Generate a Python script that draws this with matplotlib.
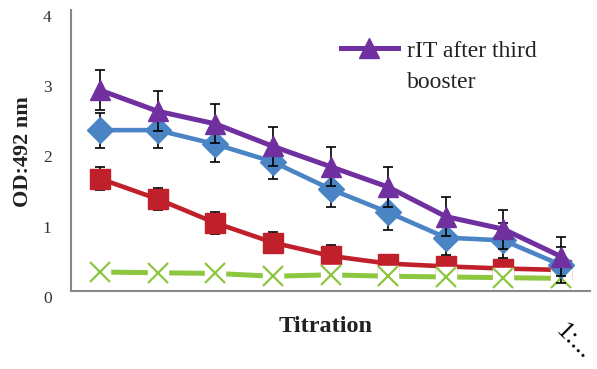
import numpy as np
import matplotlib
matplotlib.use("Agg")
import matplotlib.pyplot as plt
import matplotlib.transforms as mtransforms

# ---------------------------------------------------------------
# data (9 dilution steps)
# ---------------------------------------------------------------
steps = np.arange(9)

rit_third = [2.86, 2.56, 2.38, 2.06, 1.77, 1.48, 1.06, 0.88, 0.49]
rit_third_err = [0.28, 0.28, 0.28, 0.28, 0.28, 0.28, 0.28, 0.28, 0.28]

blue_vals = [2.29, 2.29, 2.09, 1.84, 1.45, 1.12, 0.76, 0.72, 0.37]
blue_err = [0.25, 0.25, 0.25, 0.25, 0.25, 0.25, 0.25, 0.25, 0.25]

red_vals = [1.60, 1.31, 0.97, 0.69, 0.50, 0.39, 0.35, 0.32, 0.30]
red_err = [0.16, 0.16, 0.16, 0.15, 0.15, 0.10, 0.08, 0.08, 0.06]

green_vals = [0.27, 0.26, 0.25, 0.21, 0.23, 0.21, 0.20, 0.19, 0.18]

yticks = [0, 1, 2, 3, 4]

purple = "#7030A0"
blue = "#4A84C4"
red = "#C0202A"
green = "#8DC63F"

plt.rcParams['font.family'] = ['Liberation Serif', 'DejaVu Serif']

fig = plt.figure(figsize=(5.97, 3.69), dpi=100)
ax = fig.add_axes([71/597, 78/369, 519/597, 281/369])

# red series
ax.errorbar(steps, red_vals, yerr=red_err, fmt='none', ecolor='black',
            elinewidth=1.2, capsize=3.5, capthick=1.2, zorder=2)
ax.plot(steps, red_vals, color=red, lw=3.3, marker='s', ms=14, zorder=3)

# green series (white box behind the x marker)
ax.plot(steps, green_vals, color=green, lw=3.6, marker='s', ms=15,
        mfc='white', mec='white', zorder=4)
ax.plot(steps, green_vals, ls='none', marker='x', color=green, ms=14,
        mew=1.6, zorder=5)

# blue series
ax.errorbar(steps, blue_vals, yerr=blue_err, fmt='none', ecolor='black',
            elinewidth=1.2, capsize=3.5, capthick=1.2, zorder=6)
ax.plot(steps, blue_vals, color=blue, lw=3.3, marker='D', ms=13, zorder=7)

# purple series
ax.errorbar(steps, rit_third, yerr=rit_third_err, fmt='none', ecolor='black',
            elinewidth=1.2, capsize=3.5, capthick=1.2, zorder=8)
line_p, = ax.plot(steps, rit_third, color=purple, lw=3.6, marker='^', ms=15,
                  zorder=9)

ax.set_xlim(-0.5, 8.5)
ax.set_ylim(0, 4)
ax.set_xticks([])
ax.set_yticks(yticks)
ax.tick_params(axis='y', length=0, pad=14, labelsize=12.5, labelcolor='#333333')
offset = mtransforms.ScaledTranslation(0, -0.06, fig.dpi_scale_trans)
for lab in ax.get_yticklabels():
    lab.set_transform(lab.get_transform() + offset)

for s in ['top', 'right']:
    ax.spines[s].set_visible(False)
for s in ['left', 'bottom']:
    ax.spines[s].set_color('#888888')
    ax.spines[s].set_linewidth(1.5)

fig.text(23/597, 1 - 152/369, "OD:492 nm", rotation=90, ha='center',
         va='center', fontsize=16, fontweight='bold', color='#222222')
fig.text(326/597, 1 - 327/369, "Titration", ha='center', va='center',
         fontsize=17.5, fontweight='bold', color='#222222')
fig.text(555/597, 1 - 332/369, "1:...", rotation=-45, ha='left',
         va='baseline', fontsize=19, color='black', rotation_mode='anchor')

leg = ax.legend([line_p], ["rIT after third"], loc='upper left',
                bbox_to_anchor=(341/597, 1 - 40/369),
                bbox_transform=fig.transFigure, frameon=False, fontsize=17,
                handlelength=2.4, handletextpad=0.4, numpoints=1,
                borderpad=0, borderaxespad=0)
for t in leg.get_texts():
    t.set_color('#222222')
fig.text(407/597, 1 - 83/369, "booster", ha='left', va='center',
         fontsize=17, color='#222222')

fig.savefig("out.png", dpi=100)
